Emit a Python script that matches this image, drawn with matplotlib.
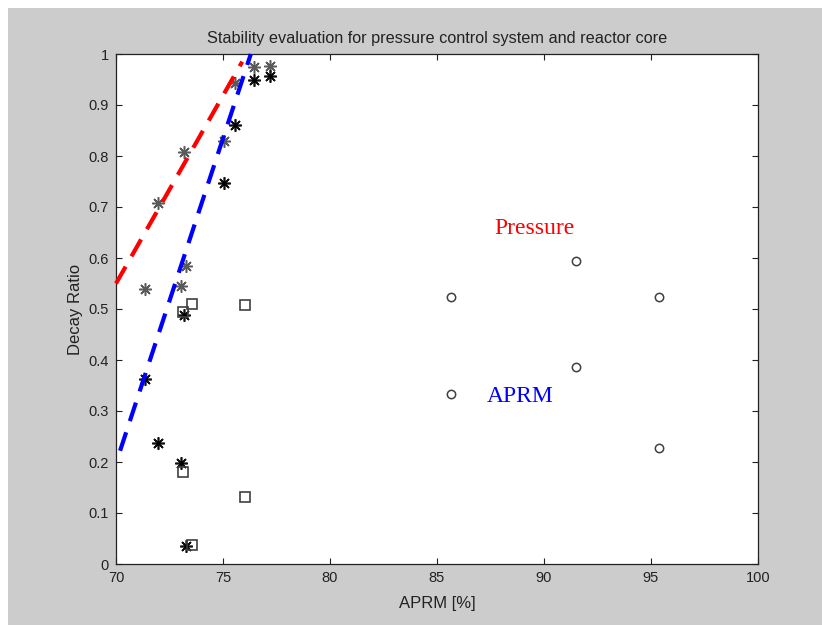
import matplotlib
matplotlib.use("Agg")
import matplotlib.pyplot as plt
from matplotlib.patches import Rectangle

plt.rcParams['font.family'] = ['Liberation Sans', 'DejaVu Sans']
plt.rcParams['lines.scale_dashes'] = False

# Data
aprm_star = [76.45, 77.2, 75.56, 75.05, 73.18, 71.95, 73.27, 71.36, 73.02]
dr_pressure_star = [0.975, 0.976, 0.944, 0.830, 0.808, 0.707, 0.584, 0.539, 0.545]
dr_aprm_star = [0.949, 0.957, 0.861, 0.748, 0.488, 0.237, 0.035, 0.363, 0.199]

aprm_sq = [73.57, 76.04, 73.14, 73.14, 76.04, 73.57]
dr_sq = [0.510, 0.508, 0.495, 0.181, 0.132, 0.037]

aprm_circ = [85.67, 91.5, 95.39, 91.5, 85.67, 95.39]
dr_circ = [0.524, 0.595, 0.524, 0.387, 0.333, 0.227]

pressure_line_x = [70.0, 75.9]
pressure_line_y = [0.550, 0.985]
aprm_line_x = [70.19, 76.3]
aprm_line_y = [0.222, 1.0]

fig = plt.figure(figsize=(8.22, 6.25), dpi=100, facecolor='white')
fig.patches.append(Rectangle((8/822, 0), 1, 1 - 8/625, transform=fig.transFigure,
                             facecolor='#cccccc', edgecolor='none', zorder=-10))
ax = fig.add_axes([116/822, 1 - 564/625, (758 - 116)/822, (564 - 54)/625])
ax.set_facecolor('white')

ast = (8, 2, 0)
ax.plot(aprm_star, dr_pressure_star, linestyle='none', marker=ast, markersize=9,
        markeredgecolor='#5a5a5a', markeredgewidth=1.1, zorder=3)
ax.plot(aprm_star, dr_aprm_star, linestyle='none', marker=ast, markersize=9,
        markeredgecolor='#111111', markeredgewidth=1.2, zorder=3)
ax.plot(aprm_star, dr_aprm_star, linestyle='none', marker='.', markersize=4,
        color='black', zorder=3)
ax.plot(aprm_sq, dr_sq, linestyle='none', marker='s', markersize=7,
        markerfacecolor='none', markeredgecolor='#404040', markeredgewidth=1.2, zorder=3)
ax.plot(aprm_circ, dr_circ, linestyle='none', marker='o', markersize=6,
        markerfacecolor='none', markeredgecolor='#404040', markeredgewidth=1.1, zorder=3)

ax.plot(pressure_line_x, pressure_line_y, color='red', linewidth=3,
        dashes=(14, 8.5), clip_on=False, zorder=4)
ax.plot(aprm_line_x, aprm_line_y, color='blue', linewidth=3,
        dashes=(14, 8.5), clip_on=False, zorder=4)

ax.text(89.56, 0.657, 'Pressure', color='red', fontsize=17,
        family=['Liberation Serif'], ha='center', va='center')
ax.text(88.9, 0.329, 'APRM', color='blue', fontsize=17,
        family=['Liberation Serif'], ha='center', va='center')

ax.set_xlim(70, 100)
ax.set_ylim(0, 1)
ax.set_xticks([70, 75, 80, 85, 90, 95, 100])
ax.set_xticklabels(['70', '75', '80', '85', '90', '95', '100'])
ax.set_yticks([0, 0.1, 0.2, 0.3, 0.4, 0.5, 0.6, 0.7, 0.8, 0.9, 1.0])
ax.set_yticklabels(['0', '0.1', '0.2', '0.3', '0.4', '0.5', '0.6', '0.7', '0.8', '0.9', '1'])
ax.tick_params(direction='in', length=4.5, width=0.8, top=True, right=True,
               labelsize=10.5, colors='#222222', pad=5)
for s in ax.spines.values():
    s.set_linewidth(0.9)
    s.set_color('#222222')

ax.set_title('Stability evaluation for pressure control system and reactor core',
             fontsize=11.7, color='#222222', pad=8)
ax.set_xlabel('APRM [%]', fontsize=12, color='#222222', labelpad=8)
ax.set_ylabel('Decay Ratio', fontsize=12, color='#222222', labelpad=4)

fig.savefig('out.png', dpi=100, facecolor=fig.get_facecolor())
